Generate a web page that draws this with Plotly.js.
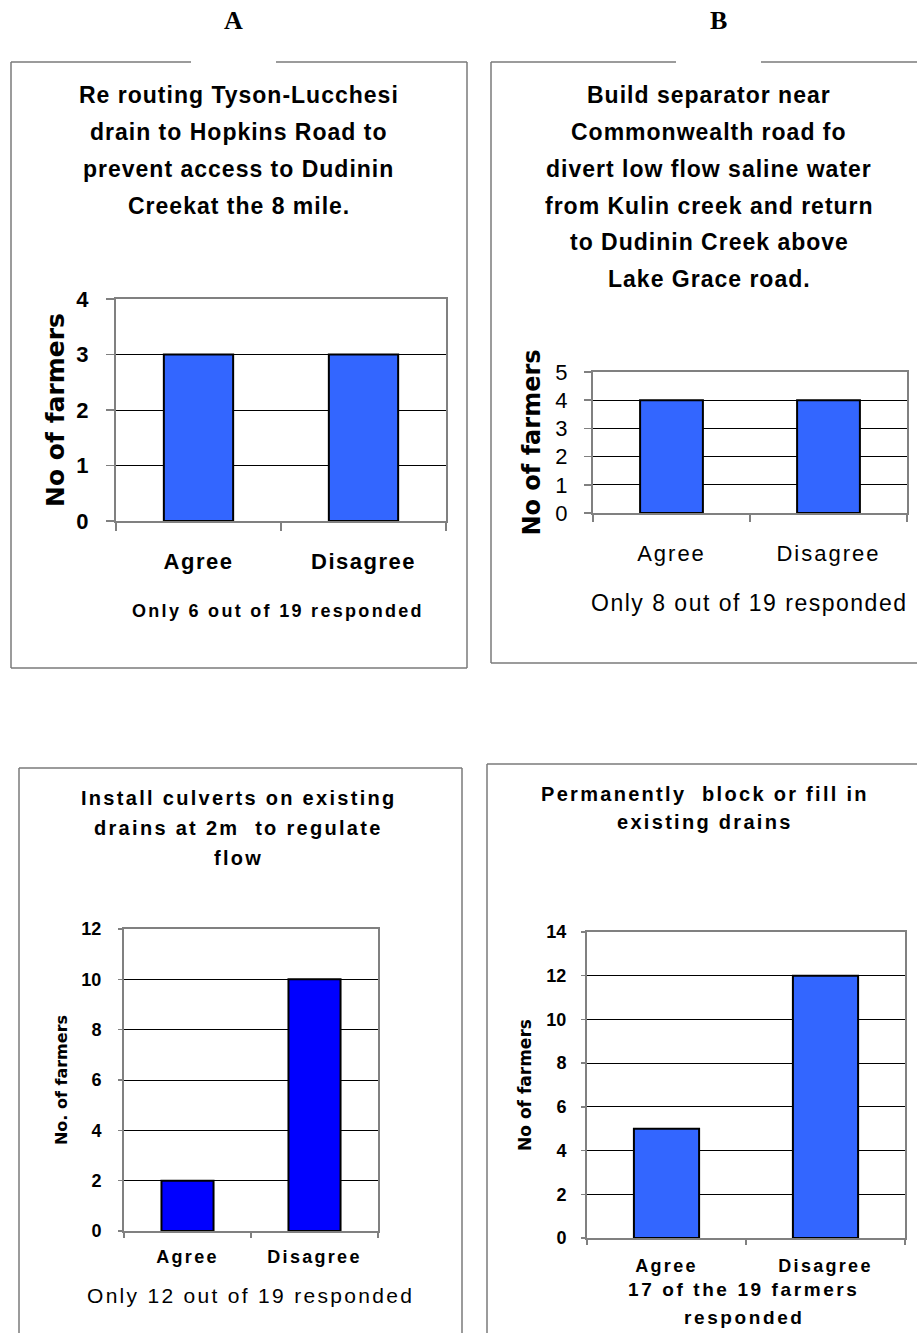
<!DOCTYPE html>
<html>
<head>
<meta charset="utf-8">
<script src="https://cdn.plot.ly/plotly-3.0.1.min.js"></script>
<style>html,body{margin:0;padding:0;background:#fff;}</style>
</head>
<body>
<div id="chart" style="width:917px;height:1333px;"></div>
<script>
// ---------------- data ----------------
const categories = ['Agree', 'Disagree'];
const farmersA = [3, 3];
const farmersB = [4, 4];
const farmersC = [2, 10];
const farmersD = [5, 12];

const panelLetters = ['A', 'B'];

const titleA = ['Re routing Tyson-Lucchesi', 'drain to Hopkins Road to', 'prevent access to Dudinin', 'Creekat the 8 mile.'];
const titleB = ['Build separator near', 'Commonwealth road fo', 'divert low flow saline water', 'from Kulin creek and return', 'to Dudinin Creek above', 'Lake Grace road.'];
const titleC = ['Install culverts on existing', 'drains at 2m  to regulate', 'flow'];
const titleD = ['Permanently  block or fill in', 'existing drains'];

const noteA = ['Only 6 out of 19 responded'];
const noteB = ['Only 8 out of 19 responded'];
const noteC = ['Only 12 out of 19 responded'];
const noteD = ['17 of the 19 farmers', 'responded'];

const yTitleA = 'No of farmers';
const yTitleB = 'No of farmers';
const yTitleC = 'No. of farmers';
const yTitleD = 'No of farmers';

// ---------------- helpers ----------------
const W = 917, H = 1333;
const fx = p => p / W;
const fy = p => 1 - p / H;
const sp = (t, ls) => '<span style="letter-spacing:' + ls + 'px">' + t + '</span>';
const SANS = 'Liberation Sans, Arial, sans-serif';

function bar(y, xa, ya, color, w) {
  return {
    type: 'bar', x: categories, y: y, xaxis: xa, yaxis: ya, width: w,
    marker: {color: color, line: {color: '#000', width: 2}},
    hoverinfo: 'skip', showlegend: false
  };
}

function xAxis(l, r, anchor, font, ls, standoff, ticklen) {
  return {
    domain: [fx(l), fx(r)], anchor: anchor, type: 'category',
    tickmode: 'array', tickvals: categories, ticktext: categories.map(c => sp(c, ls)),
    tickfont: font, ticks: 'outside', tickson: 'boundaries', ticklen: ticklen,
    tickcolor: '#808080', tickwidth: 1.5,
    showline: true, linecolor: '#808080', linewidth: 2, mirror: true,
    showgrid: false, zeroline: false, fixedrange: true,
    ticklabelstandoff: standoff
  };
}

function yAxis(top, bottom, anchor, max, dtick, font, title, tfont, tstandoff, lstandoff, ticklen) {
  return {
    domain: [fy(bottom), fy(top)], anchor: anchor,
    range: [0, max], tick0: 0, dtick: dtick,
    tickfont: font, ticks: 'outside', ticklen: ticklen, tickcolor: '#808080', tickwidth: 1.5,
    showline: true, linecolor: '#808080', linewidth: 2, mirror: true,
    showgrid: true, gridcolor: '#000', gridwidth: 1, zeroline: false, fixedrange: true,
    ticklabelstandoff: lstandoff,
    title: {text: title, font: tfont, standoff: tstandoff}
  };
}

function lines(arr, cx, ys, font, ls) {
  return arr.map((t, i) => ({
    text: sp(t, ls), x: fx(cx), y: fy(ys[i]), xref: 'paper', yref: 'paper',
    xanchor: 'center', yanchor: 'middle', showarrow: false, font: font
  }));
}

function hline(x0, x1, y) {
  return {type: 'line', xref: 'paper', yref: 'paper', x0: fx(x0), x1: fx(x1), y0: fy(y), y1: fy(y),
    line: {color: '#7a7a7a', width: 1.5}};
}
function vline(x, y0, y1) {
  return {type: 'line', xref: 'paper', yref: 'paper', x0: fx(x), x1: fx(x), y0: fy(y0), y1: fy(y1),
    line: {color: '#7a7a7a', width: 1.5}};
}

// ---------------- traces ----------------
const traces = [
  bar(farmersA, 'x', 'y', '#3366FF', 0.42),
  bar(farmersB, 'x2', 'y2', '#3366FF', 0.40),
  bar(farmersC, 'x3', 'y3', '#0000FF', 0.41),
  bar(farmersD, 'x4', 'y4', '#3366FF', 0.41)
];

const boldF = (s) => ({family: SANS, size: s, color: '#000', weight: 'bold'});
const regF = (s) => ({family: SANS, size: s, color: '#000'});
const yTitleF = (s) => ({family: 'DejaVu Sans', size: s, color: '#000', weight: 'bold'});

const annotations = [].concat(
  lines([panelLetters[0]], 233, [21], {family: 'Liberation Serif, Times New Roman, serif', size: 26, color: '#000', weight: 'bold'}, 0),
  lines([panelLetters[1]], 718, [21], {family: 'Liberation Serif, Times New Roman, serif', size: 26, color: '#000', weight: 'bold'}, 0),
  lines(titleA, 239, [95, 132, 169, 206], boldF(23), 1),
  lines(titleB, 709, [95, 132, 169, 206, 242, 279], boldF(23), 1),
  lines(titleC, 239, [798, 828, 858], boldF(20), 2.3),
  lines(titleD, 705, [794, 822], boldF(20), 2.3),
  lines(noteA, 278, [611], boldF(18), 2.3),
  lines(noteB, 749, [603], regF(23), 1.5),
  lines(noteC, 250, [1295], regF(21), 2.3),
  lines(noteD, 744, [1289, 1317], boldF(19), 2.6)
);

const shapes = [
  // panel A box with gap for letter
  hline(11, 191, 62), hline(276, 467, 62), vline(11, 62, 668), vline(467, 62, 668), hline(11, 467, 668),
  // panel B box
  hline(491, 676, 62), hline(761, 930, 62), vline(491, 62, 663), hline(491, 930, 663),
  // panel C box
  hline(19, 462, 768), vline(19, 768, 1345), vline(462, 768, 1345),
  // panel D box
  hline(487, 930, 764), vline(487, 764, 1345)
];

const layout = {
  width: W, height: H,
  margin: {l: 0, r: 0, t: 0, b: 0},
  paper_bgcolor: '#fff', plot_bgcolor: '#fff',
  showlegend: false,
  font: {family: SANS, color: '#000'},
  xaxis: xAxis(116, 446, 'y', boldF(22), 1.5, 20, 8),
  yaxis: yAxis(299, 521, 'x', 4, 1, boldF(22), yTitleA, yTitleF(25), 5, 13, 8),
  xaxis2: xAxis(593, 907, 'y2', regF(22), 2, 20, 7),
  yaxis2: yAxis(372, 513, 'x2', 5, 1, regF(22), yTitleB, yTitleF(24), 8, 12, 7),
  xaxis3: xAxis(124, 378, 'y3', boldF(18), 2.3, 8, 5),
  yaxis3: yAxis(929, 1231, 'x3', 12, 2, boldF(18), yTitleC, yTitleF(16), 10, 13, 4),
  xaxis4: xAxis(587, 905, 'y4', boldF(18), 2.3, 10, 5),
  yaxis4: yAxis(932, 1238, 'x4', 14, 2, boldF(18), yTitleD, yTitleF(17), 10, 11, 4),
  annotations: annotations,
  shapes: shapes
};

Plotly.newPlot('chart', traces, layout, {staticPlot: true, displayModeBar: false});
</script>
</body>
</html>
